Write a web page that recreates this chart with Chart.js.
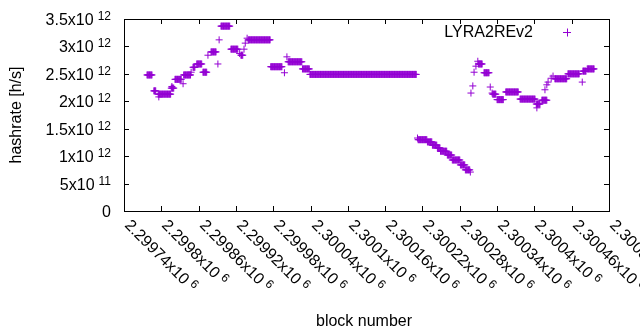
<!DOCTYPE html>
<html>
<head>
<meta charset="utf-8">
<script src="https://cdn.jsdelivr.net/npm/chart.js@4"></script>
<style>
  body { margin: 0; background: #fff; }
</style>
</head>
<body>
<canvas id="myChart" width="640" height="330"></canvas>
<script>
// runs of blocks with the same hashrate (10^12 h/s)
var runFirst = [2299777, 2299788, 2299796, 2299795, 2299817, 2299816, 2299822, 2299835, 2299836, 2299848,
                2299851, 2299857, 2299867, 2299875, 2299880, 2299891, 2299893, 2299896, 2299912, 2299926,
                2299928, 2299933, 2299935, 2299938, 2299940, 2299976, 2299998, 2300002, 2300004, 2300027,
                2300039, 2300212, 2300213, 2300228, 2300236, 2300244, 2300249, 2300260, 2300268, 2300281,
                2300289, 2300297, 2300298, 2300301, 2300303, 2300306, 2300309, 2300310, 2300319, 2300329,
                2300332, 2300333, 2300340, 2300354, 2300377, 2300403, 2300404, 2300412, 2300417, 2300420,
                2300422, 2300427, 2300430, 2300433, 2300454, 2300477, 2300478, 2300485];
var runLast  = [2299785, 2299791, 2299796, 2299815, 2299817, 2299820, 2299832, 2299835, 2299847, 2299848,
                2299854, 2299865, 2299873, 2299875, 2299888, 2299891, 2299893, 2299910, 2299923, 2299926,
                2299931, 2299933, 2299935, 2299938, 2299975, 2299994, 2299998, 2300002, 2300026, 2300038,
                2300210, 2300212, 2300227, 2300235, 2300243, 2300248, 2300259, 2300267, 2300280, 2300288,
                2300296, 2300297, 2300298, 2300301, 2300303, 2300306, 2300309, 2300316, 2300327, 2300329,
                2300332, 2300338, 2300350, 2300374, 2300401, 2300409, 2300404, 2300420, 2300417, 2300420,
                2300422, 2300427, 2300430, 2300452, 2300472, 2300477, 2300483, 2300496];
var runRate  = [2.48, 2.19, 2.08, 2.13, 2.27, 2.24, 2.40, 2.32, 2.48, 2.53,
                2.62, 2.68, 2.53, 2.84, 2.90, 2.68, 3.12, 3.37, 2.95, 2.87,
                2.84, 2.95, 3.06, 3.15, 3.12, 2.63, 2.52, 2.81, 2.72, 2.59,
                2.49, 1.33, 1.30, 1.26, 1.20, 1.15, 1.09, 1.02, 0.93, 0.84,
                0.75, 0.71, 2.15, 2.28, 2.53, 2.64, 2.73, 2.68, 2.52, 2.26,
                2.15, 2.13, 2.03, 2.17, 2.04, 1.95, 1.88, 2.02, 2.21, 2.30,
                2.35, 2.42, 2.46, 2.41, 2.50, 2.35, 2.55, 2.59];

var xMin = 2299740, xMax = 2300520, xStep = 60;
var yMax = 3.5e12, yStep = 0.5e12;
var yTickMain = ['0', '5x10', '1x10', '1.5x10', '2x10', '2.5x10', '3x10', '3.5x10'];
var yTickExp  = ['', '11', '12', '12', '12', '12', '12', '12'];
var seriesName = 'LYRA2REv2';
var purple = '#9400d3';

var points = [];
for (var i = 0; i < runFirst.length; i++) {
  for (var b = runFirst[i]; b <= runLast[i]; b++) {
    points.push({x: b, y: runRate[i] * 1e12});
  }
}

var FONT = '"Liberation Sans", Arial, sans-serif';

var gnuplotFrame = {
  id: 'gnuplotFrame',
  afterDraw: function(chart) {
    var c = chart.ctx, a = chart.chartArea;
    var sx = chart.scales.x, sy = chart.scales.y;
    c.save();
    c.strokeStyle = '#000';
    c.lineWidth = 1;
    c.strokeRect(a.left + 0.5, a.top + 0.5, a.right - a.left, a.bottom - a.top);

    // y ticks + labels
    c.fillStyle = '#000';
    for (var k = 0; k < yTickMain.length; k++) {
      var v = k * yStep;
      var py = Math.round(sy.getPixelForValue(v)) + 0.5;
      c.beginPath();
      c.moveTo(a.left, py); c.lineTo(a.left + 5, py);
      c.moveTo(a.right, py); c.lineTo(a.right - 5, py);
      c.stroke();
      c.font = '16px ' + FONT;
      var mw = c.measureText(yTickMain[k]).width;
      var sw = 0, gap = 0;
      if (yTickExp[k]) {
        c.font = '12px ' + FONT;
        sw = c.measureText(yTickExp[k]).width;
        gap = 4;
      }
      var right = 111;
      c.textBaseline = 'alphabetic';
      c.textAlign = 'left';
      c.font = '16px ' + FONT;
      c.fillText(yTickMain[k], right - sw - gap - mw, py + 5);
      if (yTickExp[k]) {
        c.font = '12px ' + FONT;
        c.fillText(yTickExp[k], right - sw, py + 0.5);
      }
    }

    // x ticks + rotated labels
    for (var t = xMin; t <= xMax; t += xStep) {
      var px = Math.round(sx.getPixelForValue(t)) + 0.5;
      c.beginPath();
      c.moveTo(px, a.bottom); c.lineTo(px, a.bottom - 5);
      c.moveTo(px, a.top); c.lineTo(px, a.top + 5);
      c.stroke();
      var lbl = String(+(t / 1e6).toFixed(5)) + 'x10';
      c.save();
      c.translate(px + 2.5, a.bottom + 12);
      c.rotate(Math.PI / 4);
      c.textAlign = 'left';
      c.textBaseline = 'middle';
      c.font = '16px ' + FONT;
      c.fillText(lbl, 0, 0);
      var w = c.measureText(lbl).width;
      c.font = '12px ' + FONT;
      c.fillText('6', w + 4, -4);
      c.restore();
    }

    // axis titles
    c.font = '16px ' + FONT;
    c.textAlign = 'center';
    c.textBaseline = 'alphabetic';
    c.fillText('block number', 364, 326);
    c.save();
    c.translate(17, 115);
    c.rotate(-Math.PI / 2);
    c.textBaseline = 'middle';
    c.fillText('hashrate [h/s]', 0, 0);
    c.restore();

    // key
    c.textAlign = 'right';
    c.textBaseline = 'alphabetic';
    c.fillText(seriesName, 533, 37);
    c.strokeStyle = purple;
    c.beginPath();
    c.moveTo(563, 32.5); c.lineTo(571, 32.5);
    c.moveTo(567.5, 28.5); c.lineTo(567.5, 36.5);
    c.stroke();
    c.restore();
  }
};

var ctx = document.getElementById('myChart').getContext('2d');
var myChart = new Chart(ctx, {
  type: 'scatter',
  data: {
    datasets: [{
      label: seriesName,
      data: points,
      borderColor: purple,
      backgroundColor: purple,
      pointStyle: 'cross',
      pointRadius: 3.5,
      borderWidth: 1,
      showLine: false
    }]
  },
  options: {
    responsive: false,
    animation: false,
    devicePixelRatio: 1,
    layout: { padding: { top: 19, right: 31, left: 0, bottom: 0 } },
    plugins: { legend: { display: false }, tooltip: { enabled: false } },
    scales: {
      x: {
        type: 'linear', min: xMin, max: xMax,
        grid: { display: false }, border: { display: false },
        ticks: { display: false },
        afterFit: function(s) { s.height = 119; }
      },
      y: {
        min: 0, max: yMax,
        grid: { display: false }, border: { display: false },
        ticks: { display: false },
        afterFit: function(s) { s.width = 124; }
      }
    }
  },
  plugins: [gnuplotFrame]
});
</script>
</body>
</html>
